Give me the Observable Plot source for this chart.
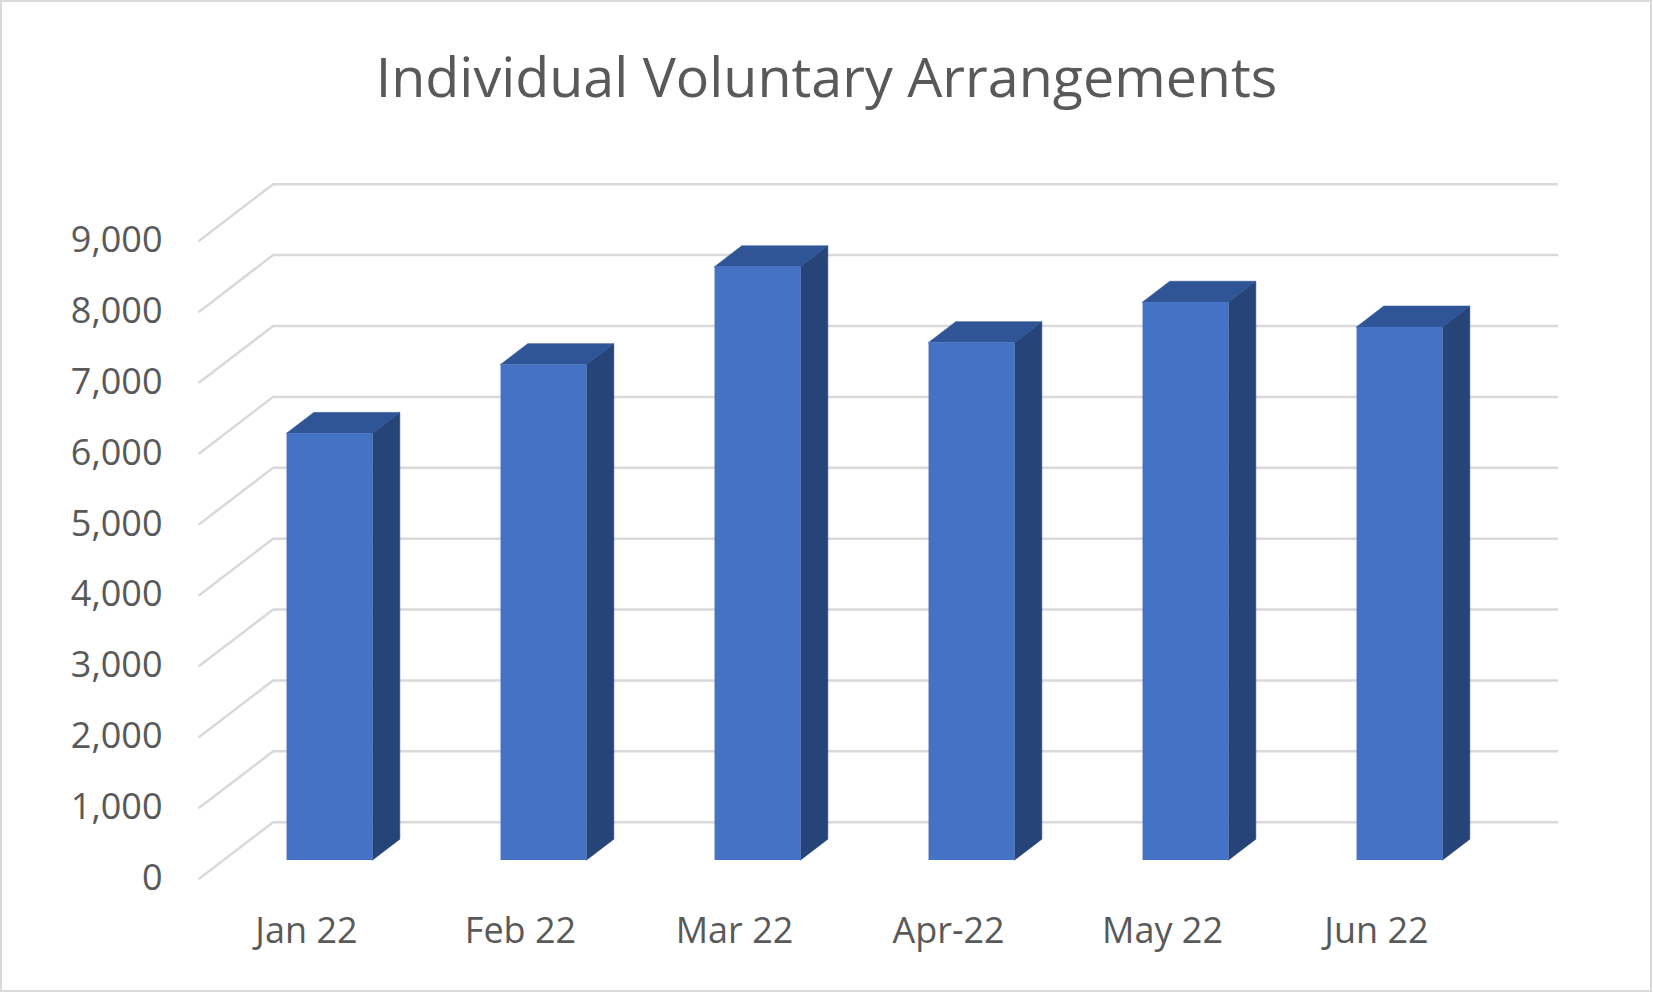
<!DOCTYPE html>
<html><head><meta charset="utf-8">
<script src="https://cdn.jsdelivr.net/npm/d3@7"></script>
<script src="https://cdn.jsdelivr.net/npm/@observablehq/plot@0.6"></script>
<style>
html,body{margin:0;padding:0;background:#fff;overflow:hidden}
#wrap{position:relative;width:1653px;height:993px;background:#fff;font-family:"Open Sans",sans-serif;color:#595959}
#title{height:140px;box-sizing:border-box;padding-top:48px;text-align:center;font-size:55.6px;line-height:55px;white-space:nowrap}
#frame{position:absolute;left:0;top:0;width:1652px;height:992px;box-sizing:border-box;border:2px solid #d9d9d9;pointer-events:none}
#chart svg{display:block}
</style></head>
<body><div id="wrap"><div id="title">Individual Voluntary Arrangements</div><div id="chart"></div><div id="frame"></div></div>
<script>
const months = ["Jan 22", "Feb 22", "Mar 22", "Apr-22", "May 22", "Jun 22"];
const values = [6020, 6990, 8370, 7300, 7870, 7520];
const yTicks = [0, 1000, 2000, 3000, 4000, 5000, 6000, 7000, 8000, 9000];

// 3D geometry (oblique projection) in data units
const DX = 0.344, DY = 794, F1 = 0.32, F2 = 0.69, HW = 0.201;
const frontColor = "#4472C4", topColor = "#2F5597", sideColor = "#264478", gridColor = "#d9d9d9";

const bars = months.map((m, i) => ({m, i, v: values[i]}));
const grid = yTicks.flatMap(t => [
  {t, x: -0.5, y: t},
  {t, x: -0.5 + DX, y: t + DY},
  {t, x: months.length - 0.5 + DX, y: t + DY}
]);
const sideFace = bars.flatMap(b => [F1, F2].map(f => ({i: b.i, x: b.i + HW + f * DX, y1: f * DY, y2: b.v + f * DY})));
const topFace = bars.flatMap(b => [F1, F2].map(f => ({i: b.i, y: b.v + f * DY, x1: b.i - HW + f * DX, x2: b.i + HW + f * DX})));
const fmt = d3.format(",");

const chart = Plot.plot({
  width: 1653, height: 853,
  marginLeft: 199, marginBottom: 115, marginTop: 20, marginRight: 90,
  style: {fontFamily: "Open Sans", fontSize: "36px", color: "#595959", background: "transparent", overflow: "visible"},
  x: {domain: [0, months.length - 1], range: [306, 1376], label: null},
  y: {domain: [0, 9000], range: [738, 100], label: null},
  marks: [
    Plot.line(grid, {x: "x", y: "y", z: "t", stroke: gridColor, strokeWidth: 2.5}),
    Plot.areaY(sideFace, {x: "x", y1: "y1", y2: "y2", z: "i", fill: sideColor, stroke: sideColor, strokeWidth: 0.6}),
    Plot.areaX(topFace, {y: "y", x1: "x1", x2: "x2", z: "i", fill: topColor, stroke: topColor, strokeWidth: 0.6}),
    Plot.rect(bars, {x1: d => d.i - HW + F1 * DX, x2: d => d.i + HW + F1 * DX, y1: d => F1 * DY, y2: d => d.v + F1 * DY, fill: frontColor}),
    Plot.axisY({ticks: yTicks, tickFormat: d => fmt(d), tickSize: 0, tickPadding: 37, label: null}),
    Plot.axisX({ticks: d3.range(months.length), tickFormat: i => months[i], tickSize: 0, tickPadding: 39, label: null})
  ]
});
document.getElementById("chart").appendChild(chart);
</script>
</body></html>
